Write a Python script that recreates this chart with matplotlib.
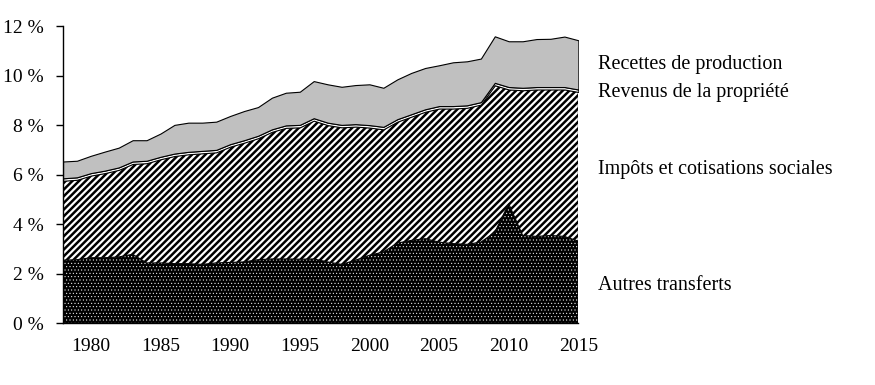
import numpy as np
import matplotlib
matplotlib.use("Agg")
import matplotlib.pyplot as plt

years = list(range(1978, 2016))

# components, %
autres = [2.54, 2.56, 2.64, 2.64, 2.67, 2.78, 2.43, 2.43, 2.40, 2.40, 2.37, 2.43, 2.45,
          2.47, 2.56, 2.59, 2.59, 2.58, 2.59, 2.47, 2.37, 2.54, 2.74, 2.87, 3.23, 3.34,
          3.41, 3.27, 3.21, 3.18, 3.27, 3.67, 4.82, 3.54, 3.50, 3.54, 3.50, 3.31]
impots = [3.21, 3.23, 3.32, 3.42, 3.52, 3.65, 4.03, 4.19, 4.35, 4.42, 4.49, 4.47, 4.68,
          4.82, 4.91, 5.14, 5.30, 5.33, 5.59, 5.53, 5.54, 5.40, 5.16, 4.96, 4.91, 5.00,
          5.13, 5.40, 5.46, 5.52, 5.56, 5.94, 4.62, 5.87, 5.94, 5.90, 5.94, 6.03]
revenus = [0.10] * 38
recettes = [0.68, 0.67, 0.70, 0.77, 0.80, 0.86, 0.83, 0.94, 1.16, 1.18, 1.14, 1.14, 1.14,
            1.18, 1.16, 1.28, 1.32, 1.34, 1.50, 1.55, 1.54, 1.58, 1.65, 1.58, 1.61, 1.67,
            1.67, 1.65, 1.77, 1.78, 1.76, 1.88, 1.85, 1.88, 1.94, 1.95, 2.04, 1.99]

labels = ["Autres transferts", "Impôts et cotisations sociales",
          "Revenus de la propriété", "Recettes de production"]
label_y = [1.33, 6.02, 9.15, 10.27]

plt.rcParams['font.family'] = ['Liberation Serif', 'DejaVu Serif']

fig = plt.figure(figsize=(8.75, 3.85), dpi=100)
ax = fig.add_axes([0.072, 0.161, 0.589, 0.771])

x = np.array(years)
layers = [autres, impots, revenus, recettes]
styles = [
    dict(facecolor='black', edgecolor='white', hatch='.....', linewidth=0, hlw=0.35),
    dict(facecolor='white', edgecolor='black', hatch='/////', linewidth=0.8, hlw=1.8),
    dict(facecolor='white', edgecolor='black', hatch=None, linewidth=0.8, hlw=1.0),
    dict(facecolor='#c0c0c0', edgecolor='black', hatch=None, linewidth=0.8, hlw=1.0),
]
bottom = np.zeros(len(x))
for vals, st in zip(layers, styles):
    top = bottom + np.array(vals)
    hlw = st.pop('hlw')
    coll = ax.fill_between(x, bottom, top, **st)
    if hasattr(coll, 'set_hatch_linewidth'):
        coll.set_hatch_linewidth(hlw)
    bottom = top

ax.set_xlim(1978, 2015)
ax.set_ylim(0, 12)
ax.set_yticks(range(0, 13, 2))
ax.set_yticklabels([f"{v} %" for v in range(0, 13, 2)])
ax.set_xticks(range(1980, 2016, 5))

for s in ['top', 'right']:
    ax.spines[s].set_visible(False)
ax.spines['left'].set_linewidth(1.0)
ax.spines['bottom'].set_linewidth(1.0)
ax.tick_params(axis='y', direction='out', length=5, width=1, pad=9, labelsize=14)
ax.tick_params(axis='x', length=0, pad=11, labelsize=14)

for lab, ly in zip(labels, label_y):
    ax.text(2016.4, ly, lab, fontsize=14.5, va='baseline', ha='left', clip_on=False)

fig.savefig("out.png", dpi=100)
